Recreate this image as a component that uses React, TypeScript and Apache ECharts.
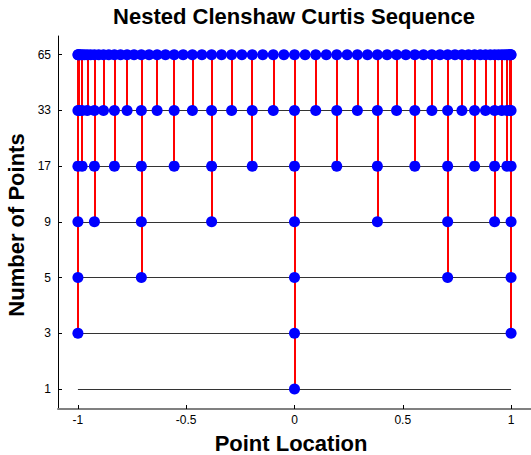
import React, { useEffect, useRef } from "react";
import * as echarts from "echarts";

// Level labels (number of points at each level), bottom to top
const levelLabels = ["1", "3", "5", "9", "17", "33", "65"];
const levelIndex = [1, 2, 3, 4, 5, 6, 7];

// Points first introduced at each level (Clenshaw–Curtis nodes)
const newPoints1 = [0];
const newPoints3 = [-1, 1];
const newPoints5 = [-0.70711, 0.70711];
const newPoints9 = [-0.92388, -0.38268, 0.38268, 0.92388];
const newPoints17 = [-0.98079, -0.83147, -0.55557, -0.19509, 0.19509, 0.55557, 0.83147, 0.98079];
const newPoints33 = [
  -0.99518, -0.95694, -0.88192, -0.77301, -0.63439, -0.4714, -0.29028, -0.09802,
  0.09802, 0.29028, 0.4714, 0.63439, 0.77301, 0.88192, 0.95694, 0.99518,
];
const newPoints65 = [
  -0.9988, -0.98918, -0.97003, -0.94154, -0.90399, -0.85773, -0.80321, -0.74095,
  -0.67156, -0.5957, -0.5141, -0.42756, -0.33689, -0.24298, -0.14673, -0.04907,
  0.04907, 0.14673, 0.24298, 0.33689, 0.42756, 0.5141, 0.5957, 0.67156,
  0.74095, 0.80321, 0.85773, 0.90399, 0.94154, 0.97003, 0.98918, 0.9988,
];
const newPointsByLevel = [newPoints1, newPoints3, newPoints5, newPoints9, newPoints17, newPoints33, newPoints65];

const xTicks = [-1, -0.5, 0, 0.5, 1];
const xRange = [-1, 1];

export default function App() {
  const ref = useRef<HTMLDivElement>(null);
  useEffect(() => {
    if (!ref.current) return;
    const chart = echarts.init(ref.current, undefined, { renderer: "svg" });
    const topLevel = levelIndex[levelIndex.length - 1];

    const hLines = levelIndex.map((lvl) => ({ coords: [[xRange[0], lvl], [xRange[1], lvl]] }));
    const stems: any[] = [];
    const dots: number[][] = [];
    newPointsByLevel.forEach((pts, i) => {
      const lvl = levelIndex[i];
      pts.forEach((x) => {
        if (lvl < topLevel) stems.push({ coords: [[x, lvl], [x, topLevel]] });
        for (let j = i; j < levelIndex.length; j++) dots.push([x, levelIndex[j]]);
      });
    });

    const font = "Arial, 'Liberation Sans', Helvetica, sans-serif";
    chart.setOption({
      animation: false,
      textStyle: { fontFamily: font },
      grid: { left: 58, right: 0, top: 36, bottom: 46, containLabel: false },
      xAxis: {
        type: "value",
        min: -1.092,
        max: 1.092,
        axisLine: { show: true, onZero: false, lineStyle: { color: "#808080", width: 2 } },
        axisTick: { show: true, inside: true, length: 4, customValues: xTicks, lineStyle: { color: "#000", width: 1 } },
        axisLabel: {
          customValues: xTicks,
          color: "#000",
          fontSize: 12,
          fontFamily: font,
          margin: 5,
          formatter: (v: number) => String(v),
        },
        splitLine: { show: false },
      },
      yAxis: {
        type: "value",
        min: 0.64,
        max: 7.336,
        axisLine: { show: true, onZero: false, lineStyle: { color: "#000", width: 1 } },
        axisTick: { show: true, inside: true, length: 4, customValues: levelIndex, lineStyle: { color: "#000", width: 1 } },
        axisLabel: {
          customValues: levelIndex,
          color: "#000",
          fontSize: 12,
          fontFamily: font,
          margin: 7,
          formatter: (v: number) => levelLabels[Math.round(v) - 1] ?? "",
        },
        splitLine: { show: false },
      },
      graphic: [
        {
          type: "text",
          x: 294,
          y: 16,
          style: {
            text: "Nested Clenshaw Curtis Sequence",
            font: `bold 22px ${font}`,
            fill: "#000",
            align: "center",
            verticalAlign: "middle",
          },
        },
        {
          type: "text",
          x: 16,
          y: 225,
          rotation: Math.PI / 2,
          style: {
            text: "Number of Points",
            font: `bold 22px ${font}`,
            fill: "#000",
            align: "center",
            verticalAlign: "middle",
          },
        },
        {
          type: "text",
          x: 291,
          y: 443,
          style: {
            text: "Point Location",
            font: `bold 22px ${font}`,
            fill: "#000",
            align: "center",
            verticalAlign: "middle",
          },
        },
      ],
      series: [
        {
          type: "lines",
          coordinateSystem: "cartesian2d",
          data: hLines,
          lineStyle: { color: "#333", width: 1, opacity: 1 },
          z: 1,
          silent: true,
        },
        {
          type: "lines",
          coordinateSystem: "cartesian2d",
          data: stems,
          lineStyle: { color: "#ff0000", width: 2, opacity: 1 },
          z: 2,
          silent: true,
        },
        {
          type: "scatter",
          data: dots,
          symbol: "circle",
          symbolSize: 11,
          itemStyle: { color: "#0000ff", opacity: 1 },
          z: 3,
        },
      ],
    });
    return () => chart.dispose();
  }, []);
  return <div ref={ref} style={{ position: "absolute", left: 0, top: 0, width: 531, height: 455 }} />;
}
